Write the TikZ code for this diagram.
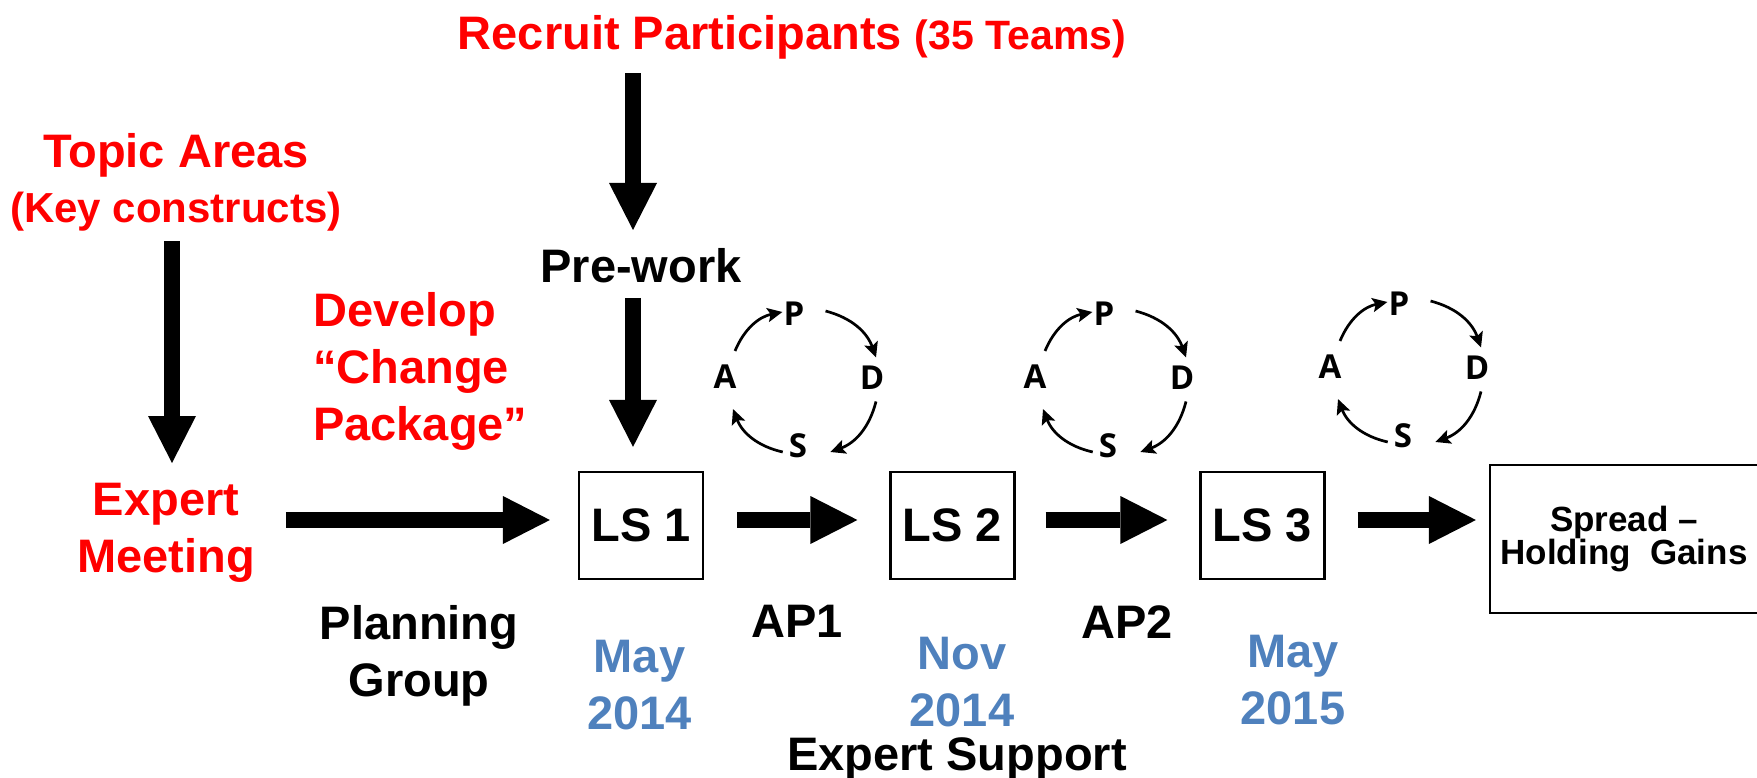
\documentclass[tikz,border=0pt]{standalone}
\usepackage{fontspec}
\setmainfont{Liberation Sans}
\newfontfamily\pdsafont{Open Sans}
\usetikzlibrary{arrows.meta,calc}
\definecolor{datec}{RGB}{79,129,189}
\newcommand\fbig{\fontsize{47}{57}\selectfont\bfseries}
\newcommand\fmid{\fontsize{41}{49}\selectfont\bfseries}
\newcommand\fkey{\fontsize{42}{50}\selectfont\bfseries}
\newcommand\fspread{\fontsize{35}{33}\selectfont\bfseries}
\begin{document}
\begin{tikzpicture}[x=1pt,y=-1pt,
  txt/.style={font=\fbig, inner sep=0pt, align=center},
  lsbox/.style={draw, line width=2.2pt, minimum width=124pt, minimum height=107pt, inner sep=0pt, font=\fbig},
  bigarr/.style={line width=15.5pt, -{Triangle[length=47pt,width=48pt,line width=0pt]}},
  pd/.style={font=\pdsafont\fontsize{33}{40}\selectfont\bfseries, inner sep=0pt},
  cyc/.style={line width=2.7pt, -{Stealth[length=15pt,width=14pt,inset=3pt]}, bend left=28}]
\useasboundingbox (0,0) rectangle (1757,778);

% texts
\node[txt, red, anchor=north] (recruit) at (792,15) {Recruit Participants {\fmid(35 Teams)}};
\node[txt, anchor=north] (prework) at (641,248) {Pre-work};
\node[txt, red, anchor=north] (topic) at (176,133) {Topic Areas\\[-2pt]{\fkey(Key constructs)}};
\node[txt, red, anchor=north] (expert) at (166,483) {Expert\\Meeting};
\node[txt, red, anchor=north west, align=left] (develop) at (313,292) {Develop\\“Change\\Package”};
\node[txt, anchor=north] (planning) at (419,605) {Planning\\Group};
\node[txt, anchor=north] (ap1) at (797,605) {AP1};
\node[txt, anchor=north] (ap2) at (1127,605) {AP2};
\node[txt, datec, anchor=north] (d1) at (639.5,640) {May\\2014};
\node[txt, datec, anchor=north] (d2) at (962,637) {Nov\\2014};
\node[txt, datec, anchor=north] (d3) at (1293,635) {May\\2015};
\node[txt, anchor=north] (support) at (957,737) {Expert Support};

% boxes
\node[lsbox] (ls1) at (641,525.5) {LS 1};
\node[lsbox] (ls2) at (952.5,525.5) {LS 2};
\node[lsbox] (ls3) at (1262.5,525.5) {LS 3};
\node[draw, line width=2.2pt, minimum width=268pt, minimum height=148pt, inner sep=0pt,
      align=center, font=\fspread] (spread) at (1624,539) {Spread --\\Holding\ \ Gains};

% big arrows
\draw[bigarr, shorten <=10pt, shorten >=20pt] ($(topic.south)+(-4,0)$) -- ($(topic.south |- expert.north)+(-4,0)$);
\draw[bigarr, shorten <=14pt, shorten >=18pt] ($(prework.north |- recruit.south)+(-8,0)$) -- ($(prework.north)+(-8,0)$);
\draw[bigarr, shorten <=15pt, shorten >=24pt] ($(prework.south)+(-8,0)$) -- ($(ls1.north)+(-8,0)$);
\draw[bigarr, shorten <=31pt, shorten >=28pt] ($(ls1.west -| expert.east)+(0,-5.5)$) -- ($(ls1.west)+(0,-5.5)$);
\draw[bigarr, shorten <=33pt, shorten >=32pt] ($(ls1.east)+(0,-5.5)$) -- ($(ls2.west)+(0,-5.5)$);
\draw[bigarr, shorten <=30pt, shorten >=32pt] ($(ls2.east)+(0,-5.5)$) -- ($(ls3.west)+(0,-5.5)$);
\draw[bigarr, shorten <=32pt, shorten >=13pt] ($(ls3.east)+(0,-5.5)$) -- ($(ls3.east -| spread.west)+(0,-5.5)$);

% PDSA cycles
\foreach \i/\dx/\dy in {1/0/0, 2/310/0, 3/605/-10}{
  \begin{scope}[shift={(\dx,\dy)}]
    \node[pd] (p\i) at (794,314) {P};
    \node[pd] (d\i) at (872,377.5) {D};
    \node[pd] (s\i) at (798,446) {S};
    \node[pd] (a\i) at (725,377) {A};
  \end{scope}
  \draw[cyc] ($(a\i.north)+(10,-14)$) to ($(p\i.west)+(-1,-2)$);
  \draw[cyc] ($(p\i.east)+(21,-3)$) to ($(d\i.north)+(4,-8)$);
  \draw[cyc] ($(d\i.south)+(4,12)$) to ($(s\i.east)+(23,6)$);
  \draw[cyc] ($(s\i.west)+(-6,6)$) to ($(a\i.south)+(8,20)$);
}
\end{tikzpicture}
\end{document}
